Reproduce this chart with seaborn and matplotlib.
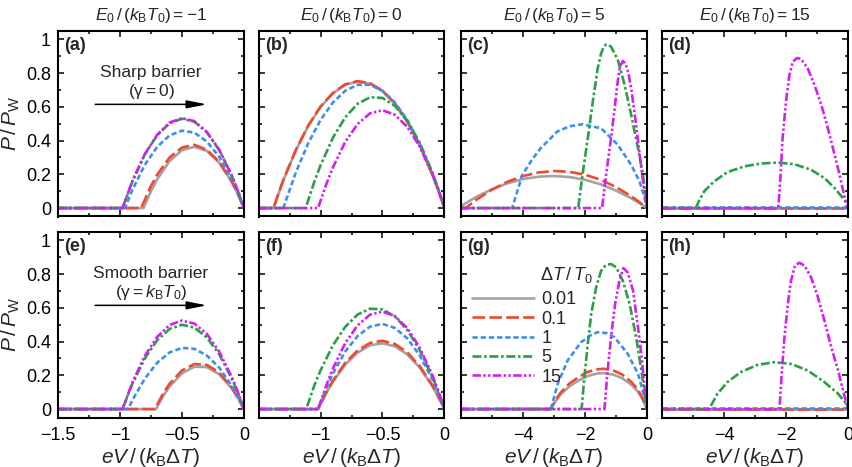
import matplotlib
matplotlib.use("Agg")
import matplotlib.pyplot as plt
from matplotlib.ticker import MultipleLocator, FuncFormatter
from matplotlib.lines import Line2D
import pandas as pd
import seaborn as sns

# ---------------- data ----------------
LEVELS = ["0.01", "0.1", "1", "5", "15"]
LEGEND_TITLE = r"$\Delta T\,/\,T_0$"
COLUMN_TITLES = [r"$E_0\,/\,(k_{\rm B}T_0) = -1$", r"$E_0\,/\,(k_{\rm B}T_0) = 0$",
                 r"$E_0\,/\,(k_{\rm B}T_0) = 5$", r"$E_0\,/\,(k_{\rm B}T_0) = 15$"]
PANEL_LABELS = ["(a)", "(b)", "(c)", "(d)", "(e)", "(f)", "(g)", "(h)"]
Y_LABEL = r"$P\,/\,P_{\rm W}$"
X_LABEL = r"$eV\,/\,(k_{\rm B}\Delta T)$"
TOP_NOTE = ["Sharp barrier", r"$(\mathrm{\gamma} = 0)$"]
BOTTOM_NOTE = ["Smooth barrier", r"$(\mathrm{\gamma} = k_{\rm B}T_0)$"]

# panel (a): E0=-1, sharp barrier
PANEL_A = {
    "0.01": ([-1.5, -0.81, -0.75, -0.7, -0.6, -0.5, -0.4, -0.3, -0.2, -0.1, -0.05, 0],
             [0, 0, 0.100, 0.171, 0.279, 0.343, 0.363, 0.339, 0.270, 0.157, 0.084, 0]),
    "0.1": ([-1.5, -0.83, -0.75, -0.7, -0.6, -0.5, -0.4, -0.3, -0.2, -0.1, -0.05, 0],
            [0, 0, 0.131, 0.198, 0.300, 0.359, 0.375, 0.346, 0.274, 0.159, 0.085, 0]),
    "1": ([-1.5, -0.96, -0.9, -0.8, -0.7, -0.6, -0.5, -0.4, -0.3, -0.2, -0.1, -0.05, 0],
          [0, 0, 0.108, 0.256, 0.363, 0.431, 0.459, 0.447, 0.395, 0.304, 0.172, 0.091, 0]),
    "5": ([-1.5, -0.98, -0.9, -0.8, -0.7, -0.6, -0.5, -0.4, -0.3, -0.2, -0.1, -0.05, 0],
          [0, 0, 0.159, 0.318, 0.432, 0.503, 0.530, 0.512, 0.450, 0.344, 0.194, 0.103, 0]),
    "15": ([-1.5, -0.98, -0.9, -0.8, -0.7, -0.6, -0.5, -0.4, -0.3, -0.2, -0.1, -0.05, 0],
           [0, 0, 0.160, 0.320, 0.435, 0.507, 0.533, 0.515, 0.452, 0.346, 0.195, 0.103, 0]),
}
# panel (b): E0=0, sharp barrier
PANEL_B = {
    "0.01": ([-1.5, -1.38, -1.3, -1.2, -1.1, -1.0, -0.9, -0.8, -0.7, -0.6, -0.5, -0.4, -0.3, -0.2, -0.1, -0.05, 0],
             [0, 0, 0.164, 0.340, 0.485, 0.599, 0.680, 0.731, 0.750, 0.737, 0.693, 0.618, 0.511, 0.372, 0.202, 0.105, 0]),
    "0.1": ([-1.5, -1.38, -1.3, -1.2, -1.1, -1.0, -0.9, -0.8, -0.7, -0.6, -0.5, -0.4, -0.3, -0.2, -0.1, -0.05, 0],
            [0, 0, 0.166, 0.343, 0.488, 0.602, 0.683, 0.734, 0.753, 0.740, 0.696, 0.621, 0.514, 0.375, 0.204, 0.106, 0]),
    "1": ([-1.5, -1.3, -1.2, -1.1, -1.0, -0.9, -0.8, -0.7, -0.6, -0.5, -0.4, -0.3, -0.2, -0.1, -0.05, 0],
          [0, 0, 0.209, 0.383, 0.522, 0.626, 0.696, 0.731, 0.731, 0.696, 0.626, 0.522, 0.383, 0.209, 0.109, 0]),
    "5": ([-1.5, -1.12, -1.05, -1.0, -0.9, -0.8, -0.7, -0.6, -0.5, -0.4, -0.3, -0.2, -0.1, -0.05, 0],
          [0, 0, 0.155, 0.253, 0.417, 0.539, 0.619, 0.657, 0.653, 0.606, 0.518, 0.387, 0.215, 0.113, 0]),
    "15": ([-1.5, -1.02, -0.95, -0.9, -0.8, -0.7, -0.6, -0.5, -0.4, -0.3, -0.2, -0.1, -0.05, 0],
           [0, 0, 0.148, 0.241, 0.393, 0.499, 0.562, 0.580, 0.553, 0.481, 0.365, 0.205, 0.108, 0]),
}
# panel (c): E0=5, sharp barrier
PANEL_C = {
    "0.01": ([-6, -5.5, -5, -4.5, -4, -3.5, -3, -2.5, -2, -1.5, -1, -0.5, -0.25, 0],
             [0.012, 0.067, 0.112, 0.147, 0.172, 0.186, 0.190, 0.184, 0.168, 0.141, 0.104, 0.057, 0.030, 0]),
    "0.1": ([-6, -5.85, -5.5, -5, -4.5, -4, -3.5, -3, -2.5, -2, -1.5, -1, -0.5, -0.25, 0],
            [0, 0, 0.050, 0.109, 0.156, 0.190, 0.211, 0.220, 0.215, 0.198, 0.168, 0.125, 0.069, 0.036, 0]),
    "1": ([-6, -4.35, -4.02, -3.7, -3.43, -2.89, -2.5, -2.08, -1.48, -0.94, -0.51, -0.24, -0.1, 0],
          [0, 0, 0.197, 0.290, 0.355, 0.454, 0.485, 0.497, 0.473, 0.375, 0.256, 0.158, 0.075, 0]),
    "5": ([-6, -2.22, -2.08, -1.91, -1.75, -1.59, -1.48, -1.40, -1.32, -1.24, -1.16, -0.94, -0.72, -0.51, -0.29, -0.13, -0.04, 0],
          [0, 0, 0.197, 0.414, 0.630, 0.828, 0.917, 0.955, 0.970, 0.968, 0.957, 0.878, 0.730, 0.552, 0.355, 0.197, 0.070, 0]),
    "15": ([-6, -1.45, -1.32, -1.16, -1.05, -0.96, -0.87, -0.78, -0.69, -0.6, -0.51, -0.35, -0.21, -0.10, 0],
           [0, 0, 0.197, 0.414, 0.580, 0.730, 0.840, 0.872, 0.855, 0.800, 0.710, 0.493, 0.276, 0.118, 0]),
}
# panel (d): E0=15, sharp barrier
PANEL_D = {
    "0.01": ([-6, 0], [0, 0]),
    "0.1": ([-6, 0], [0, 0]),
    "1": ([-6, 0], [0.005, 0.005]),
    "5": ([-6, -4.91, -4.8, -4.64, -4.32, -3.89, -3.35, -2.81, -2.27, -1.73, -1.19, -0.76, -0.43, -0.16, -0.05, 0],
          [0, 0, 0.045, 0.099, 0.158, 0.213, 0.247, 0.264, 0.270, 0.260, 0.227, 0.178, 0.118, 0.059, 0.030, 0]),
    "15": ([-6, -2.25, -2.18, -2.11, -2.0, -1.89, -1.78, -1.64, -1.51, -1.30, -1.08, -0.86, -0.65, -0.43, -0.27, -0.13, -0.03, 0],
           [0, 0, 0.178, 0.414, 0.631, 0.789, 0.868, 0.890, 0.884, 0.828, 0.730, 0.611, 0.473, 0.316, 0.197, 0.079, 0.015, 0]),
}
# panel (e): E0=-1, smooth barrier
PANEL_E = {
    "0.01": ([-1.5, -0.71, -0.65, -0.6, -0.5, -0.4, -0.3, -0.2, -0.1, -0.05, 0],
             [0, 0, 0.079, 0.134, 0.212, 0.251, 0.249, 0.206, 0.123, 0.067, 0]),
    "0.1": ([-1.5, -0.72, -0.65, -0.6, -0.5, -0.4, -0.3, -0.2, -0.1, -0.05, 0],
            [0, 0, 0.095, 0.150, 0.229, 0.267, 0.262, 0.217, 0.129, 0.070, 0]),
    "1": ([-1.5, -0.935, -0.9, -0.8, -0.7, -0.6, -0.5, -0.4, -0.3, -0.2, -0.1, -0.05, 0],
          [0, 0, 0.053, 0.180, 0.275, 0.336, 0.363, 0.357, 0.318, 0.246, 0.139, 0.074, 0]),
    "5": ([-1.5, -0.98, -0.9, -0.8, -0.7, -0.6, -0.5, -0.4, -0.3, -0.2, -0.1, -0.05, 0],
          [0, 0, 0.150, 0.300, 0.408, 0.475, 0.500, 0.483, 0.425, 0.325, 0.183, 0.097, 0]),
    "15": ([-1.5, -0.98, -0.9, -0.8, -0.7, -0.6, -0.5, -0.4, -0.3, -0.2, -0.1, -0.05, 0],
           [0, 0, 0.158, 0.315, 0.428, 0.499, 0.525, 0.507, 0.446, 0.341, 0.192, 0.102, 0]),
}
# panel (f): E0=0, smooth barrier
PANEL_F = {
    "0.01": ([-1.5, -1.02, -0.95, -0.9, -0.8, -0.7, -0.6, -0.5, -0.4, -0.3, -0.2, -0.1, -0.05, 0],
             [0, 0, 0.099, 0.162, 0.264, 0.335, 0.378, 0.390, 0.372, 0.324, 0.246, 0.138, 0.073, 0]),
    "0.1": ([-1.5, -1.02, -0.95, -0.9, -0.8, -0.7, -0.6, -0.5, -0.4, -0.3, -0.2, -0.1, -0.05, 0],
            [0, 0, 0.103, 0.168, 0.275, 0.348, 0.392, 0.405, 0.386, 0.336, 0.255, 0.143, 0.075, 0]),
    "1": ([-1.5, -1.02, -0.95, -0.9, -0.8, -0.7, -0.6, -0.5, -0.4, -0.3, -0.2, -0.1, -0.05, 0],
          [0, 0, 0.129, 0.210, 0.342, 0.434, 0.489, 0.505, 0.481, 0.419, 0.318, 0.179, 0.094, 0]),
    "5": ([-1.5, -1.115, -1.05, -1.0, -0.9, -0.8, -0.7, -0.6, -0.5, -0.4, -0.3, -0.2, -0.1, -0.05, 0],
          [0, 0, 0.140, 0.229, 0.378, 0.488, 0.561, 0.595, 0.591, 0.549, 0.469, 0.350, 0.195, 0.102, 0]),
    "15": ([-1.5, -1.02, -0.95, -0.9, -0.8, -0.7, -0.6, -0.5, -0.4, -0.3, -0.2, -0.1, -0.05, 0],
           [0, 0, 0.147, 0.240, 0.392, 0.497, 0.560, 0.578, 0.551, 0.480, 0.364, 0.205, 0.108, 0]),
}
# panel (g): E0=5, smooth barrier
PANEL_G = {
    "0.01": ([-6, -3.12, -2.8, -2.5, -2.2, -1.9, -1.6, -1.4, -1.1, -0.8, -0.5, -0.3, -0.15, 0],
             [0, 0, 0.085, 0.135, 0.170, 0.197, 0.211, 0.213, 0.205, 0.183, 0.143, 0.105, 0.060, 0]),
    "0.1": ([-6, -3.12, -2.8, -2.5, -2.2, -1.9, -1.6, -1.4, -1.1, -0.8, -0.5, -0.3, -0.15, 0],
            [0, 0, 0.095, 0.152, 0.190, 0.221, 0.236, 0.239, 0.230, 0.205, 0.160, 0.118, 0.067, 0]),
    "1": ([-6, -3.1, -2.88, -2.56, -2.13, -1.8, -1.59, -1.3, -1.05, -0.62, -0.29, -0.08, 0],
          [0, 0, 0.150, 0.288, 0.396, 0.440, 0.456, 0.450, 0.426, 0.327, 0.209, 0.070, 0]),
    "5": ([-6, -2.11, -2.02, -1.91, -1.80, -1.64, -1.48, -1.32, -1.16, -0.99, -0.78, -0.56, -0.35, -0.18, -0.08, 0],
          [0, 0, 0.190, 0.387, 0.564, 0.722, 0.820, 0.856, 0.860, 0.840, 0.761, 0.623, 0.426, 0.229, 0.090, 0]),
    "15": ([-6, -1.37, -1.29, -1.16, -1.03, -0.89, -0.76, -0.62, -0.45, -0.29, -0.16, -0.08, 0],
           [0, 0, 0.190, 0.426, 0.623, 0.761, 0.836, 0.810, 0.702, 0.485, 0.288, 0.130, 0]),
}
# panel (h): E0=15, smooth barrier
PANEL_H = {
    "0.01": ([-6, 0], [0, 0]),
    "0.1": ([-6, 0], [0, 0]),
    "1": ([-6, 0], [0.006, 0.006]),
    "5": ([-6, -4.48, -4.21, -3.89, -3.46, -2.92, -2.38, -1.84, -1.30, -0.76, -0.32, -0.05, 0],
          [0, 0, 0.091, 0.160, 0.219, 0.262, 0.278, 0.268, 0.229, 0.160, 0.091, 0.030, 0]),
    "15": ([-6, -2.21, -2.14, -2.05, -1.94, -1.84, -1.71, -1.57, -1.40, -1.19, -0.97, -0.76, -0.54, -0.32, -0.16, 0],
           [0, 0, 0.209, 0.426, 0.623, 0.761, 0.850, 0.868, 0.850, 0.781, 0.663, 0.525, 0.367, 0.229, 0.110, 0]),
}

# ---------------- styling ----------------
COLORS = {"0.01": "#a3a3a3", "0.1": "#ef4a2f", "1": "#3e8ef0", "5": "#2c9e48", "15": "#d41ff0"}
DASHES = {"0.01": "", "0.1": (4.8, 1.6), "1": (2.0, 1.1),
          "5": (3.4, 1.0, 1.0, 1.0), "15": (3.2, 0.9, 0.9, 0.9, 0.9, 0.9)}
LW = 1.9

sns.set_theme(style="ticks")
plt.rcParams["font.family"] = ["Liberation Sans", "DejaVu Sans"]
plt.rcParams["mathtext.fontset"] = "custom"
plt.rcParams["mathtext.rm"] = "Liberation Sans"
plt.rcParams["mathtext.it"] = "Liberation Sans:italic"
plt.rcParams["mathtext.bf"] = "Liberation Sans:bold"
plt.rcParams["axes.unicode_minus"] = True

FS_TICK = 13
FS_TITLE = 12.5
FS_LABEL = 15
FS_NOTE = 12.5
W, H = 853, 467
fig = plt.figure(figsize=(W / 100, H / 100), dpi=100)

col_left = [58, 258.5, 461, 662]
col_w = 186
row_top = [31, 232]
row_h = 185.5

panels = [PANEL_A, PANEL_B, PANEL_C, PANEL_D, PANEL_E, PANEL_F, PANEL_G, PANEL_H]


def frame(panel):
    parts = []
    for lvl in LEVELS:
        xs, ys = panel[lvl]
        parts.append(pd.DataFrame({"x": xs, "y": ys, "level": lvl}))
    return pd.concat(parts, ignore_index=True)


def fmt(v, pos):
    s = f"{v:g}"
    if s == "-0":
        s = "0"
    return s.replace("-", "\u2212")


def fmt_skip(skip):
    def f(v, pos):
        if abs(v - skip) < 1e-9:
            return ""
        return fmt(v, pos)
    return f


axes = []
for i, panel in enumerate(panels):
    r, c = divmod(i, 4)
    left = col_left[c] / W
    bottom = 1 - (row_top[r] + row_h) / H
    ax = fig.add_axes([left, bottom, col_w / W, row_h / H])
    axes.append(ax)
    df = frame(panel)
    sns.lineplot(data=df, x="x", y="y", hue="level", style="level",
                 hue_order=LEVELS, style_order=LEVELS, palette=COLORS,
                 dashes=DASHES, estimator=None, sort=False, legend=False,
                 linewidth=LW, ax=ax)
    ax.set_ylim(-0.05, 1.05)
    if c < 2:
        ax.set_xlim(-1.5, 0)
        ax.xaxis.set_major_locator(MultipleLocator(0.5))
        ax.xaxis.set_minor_locator(MultipleLocator(0.25))
        ax.xaxis.set_major_formatter(FuncFormatter(fmt if c == 0 else fmt_skip(-1.5)))
    else:
        ax.set_xlim(-6, 0)
        ax.xaxis.set_major_locator(MultipleLocator(2))
        ax.xaxis.set_minor_locator(MultipleLocator(1))
        ax.xaxis.set_major_formatter(FuncFormatter(fmt_skip(-6)))
    ax.yaxis.set_major_locator(MultipleLocator(0.2))
    ax.yaxis.set_minor_locator(MultipleLocator(0.1))
    ax.yaxis.set_major_formatter(FuncFormatter(fmt))
    ax.tick_params(which="both", direction="in", top=True, right=True,
                   width=1.1, labelsize=FS_TICK, colors="black")
    ax.tick_params(axis="x", which="both", pad=7)
    ax.tick_params(axis="y", which="both", pad=5)
    ax.tick_params(which="major", length=4)
    ax.tick_params(which="minor", length=2.2)
    for sp in ax.spines.values():
        sp.set_linewidth(1.5)
        sp.set_color("black")
    ax.set_xlabel("")
    ax.set_ylabel("")
    if r == 0:
        ax.tick_params(labelbottom=False)
        ax.set_title(COLUMN_TITLES[c], fontsize=FS_TITLE, pad=8)
    else:
        ax.set_xlabel(X_LABEL, fontsize=FS_LABEL, labelpad=1)
    if c != 0:
        ax.tick_params(labelleft=False)
    else:
        ax.set_ylabel(Y_LABEL, fontsize=FS_LABEL, labelpad=3)
    ax.text(0.035, 0.965, PANEL_LABELS[i], transform=ax.transAxes, ha="left", va="top",
            fontsize=FS_TICK, fontweight="bold")

# annotations in the first column
for ax, note in ((axes[0], TOP_NOTE), (axes[4], BOTTOM_NOTE)):
    ax.text(-0.75, 0.805, note[0], ha="center", va="center", fontsize=FS_NOTE)
    ax.text(-0.75, 0.69, note[1], ha="center", va="center", fontsize=FS_NOTE)
    ax.annotate("", xy=(-0.3, 0.615), xytext=(-1.2, 0.615),
                arrowprops=dict(arrowstyle="-|>,head_length=1.0,head_width=0.2",
                                color="black", lw=1.1, shrinkA=0, shrinkB=0))

# legend in panel (g)
handles = [Line2D([], [], color=COLORS[l], lw=LW,
                  linestyle="-" if DASHES[l] == "" else (0, DASHES[l])) for l in LEVELS]
axg = axes[6]
axg.legend(handles, LEVELS, loc="upper left", bbox_to_anchor=(0.06, 0.68),
           frameon=False, fontsize=FS_TICK, handlelength=3.4, handletextpad=0.45,
           labelspacing=0.13, borderpad=0, borderaxespad=0)
axg.text(0.425, 0.77, LEGEND_TITLE, transform=axg.transAxes, ha="left", va="center",
         fontsize=FS_TICK)

fig.savefig("out.png", dpi=100)
